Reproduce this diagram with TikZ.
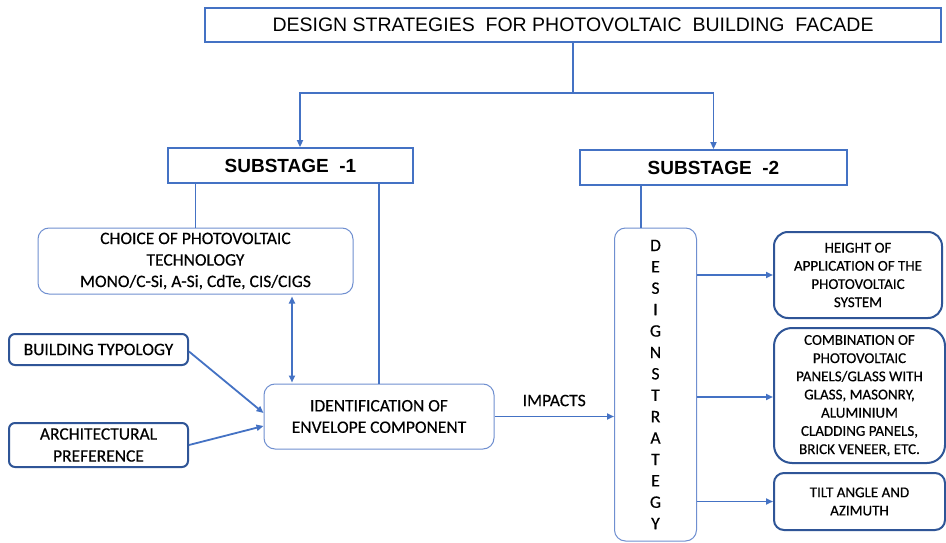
\documentclass[tikz,border=0pt]{standalone}
\usepackage{fontspec}
\setmainfont{Carlito}[FakeBold=0.4]
\newfontfamily\arialfont{Liberation Sans}
\usetikzlibrary{arrows.meta}
\definecolor{lineblue}{HTML}{4472C4}
\definecolor{darkblue}{HTML}{2F5597}
\definecolor{thinblue}{HTML}{6F8FD0}
\tikzset{
  sqbox/.style={draw=lineblue, line width=1.8pt, inner sep=0pt, align=center, font=\arialfont\fontsize{19.5}{22}\selectfont},
  softbox/.style={draw=thinblue, line width=1pt, rounded corners=11pt, inner sep=0pt, align=center, font=\fontsize{17.5}{21.5}\selectfont},
  leftbox/.style={draw=darkblue, line width=2pt, rounded corners=6pt, inner sep=0pt, align=center, font=\fontsize{17.5}{22}\selectfont},
  rightbox/.style={draw=darkblue, line width=2pt, rounded corners=14pt, inner sep=0pt, align=center, font=\fontsize{15}{18.2}\selectfont},
  conn/.style={draw=lineblue, line width=1.8pt},
  arr/.style={conn, -{Triangle[length=7pt,width=6pt]}},
  darr/.style={conn, {Triangle[length=7pt,width=6pt]}-{Triangle[length=7pt,width=6pt]}}
}
\begin{document}
\begin{tikzpicture}[x=1pt,y=-1pt]
\useasboundingbox[fill=white] (0,0) rectangle (946,543);

% boxes
\node[sqbox, minimum width=736, minimum height=34] (title) at (573,25)
  {DESIGN STRATEGIES\ \ FOR PHOTOVOLTAIC\ \ BUILDING\ \ FACADE};
\node[sqbox, minimum width=245, minimum height=35, font=\arialfont\bfseries\fontsize{19}{22}\selectfont] (s1) at (290.5,165.5) {SUBSTAGE\ \ -1};
\node[sqbox, minimum width=267, minimum height=35, font=\arialfont\bfseries\fontsize{19}{22}\selectfont] (s2) at (713.5,167.5) {SUBSTAGE\ \ -2};

\node[softbox, minimum width=315, minimum height=66] (choice) at (195.5,261)
  {CHOICE OF PHOTOVOLTAIC\\TECHNOLOGY\\MONO/C-Si, A-Si, CdTe, CIS/CIGS};
\node[leftbox, minimum width=179, minimum height=31] (bt) at (98.5,349.5) {BUILDING TYPOLOGY};
\node[leftbox, minimum width=179, minimum height=44] (ap) at (98.5,445) {ARCHITECTURAL\\PREFERENCE};
\node[softbox, minimum width=230, minimum height=65] (ident) at (379,416.5)
  {IDENTIFICATION OF\\ENVELOPE COMPONENT};

\node[softbox, minimum width=82, minimum height=313, font=\fontsize{17.5}{21.4}\selectfont] (strat) at (655.5,384.5)
  {D\\E\\S\\I\\G\\N\\S\\T\\R\\A\\T\\E\\G\\Y};

\node[rightbox, minimum width=168, minimum height=86] (height) at (858,275)
  {HEIGHT OF\\APPLICATION OF THE\\PHOTOVOLTAIC\\SYSTEM};
\node[rightbox, minimum width=171, minimum height=135, rounded corners=18pt] (combo) at (859.5,395.5)
  {COMBINATION OF\\PHOTOVOLTAIC\\PANELS/GLASS WITH\\GLASS, MASONRY,\\ALUMINIUM\\CLADDING PANELS,\\BRICK VENEER, ETC.};
\node[rightbox, minimum width=171, minimum height=57, rounded corners=10pt] (tilt) at (859.5,501.5)
  {TILT ANGLE AND\\AZIMUTH};

% junction coordinates
\coordinate (j) at (573,93);
\coordinate (j1) at (300,93);
\coordinate (dx) at (292,0);
\coordinate (sx) at (641,0);

% connectors
\draw[conn] (title.south) -- (j);
\draw[arr] (j) -- (j1) -- (j1 |- s1.north);
\draw[arr] (j) -| (s2.north);
\draw[conn] (choice.north |- s1.south) -- (choice.north);
\draw[conn] (ident.north |- s1.south) -- (ident.north);
\draw[darr] ([yshift=-2pt]choice.south -| dx) -- ([yshift=1pt]ident.north -| dx);
\draw[arr] ([yshift=-2pt]bt.east) -- ([yshift=3.5pt]ident.west);
\draw[arr] (ap.east) -- ([yshift=-9.5pt]ident.west);
\draw[arr] (ident.east) -- (strat.west |- ident.east)
  node[midway, above=6pt, font=\fontsize{17.5}{21}\selectfont] (imp) {IMPACTS};
\draw[conn] (s2.south -| sx) -- (strat.north -| sx);
\draw[arr] (strat.east |- height.west) -- (height.west);
\draw[arr] ([yshift=-1.5pt]strat.east |- combo.west) -- ([yshift=-1.5pt]combo.west);
\draw[arr] (strat.east |- tilt.west) -- (tilt.west);
\end{tikzpicture}
\end{document}
